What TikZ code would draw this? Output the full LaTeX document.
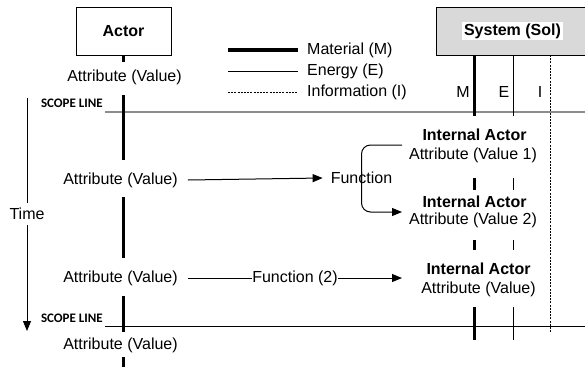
\documentclass[tikz,border=0pt]{standalone}
\usepackage{fontspec}
\setmainfont{Liberation Sans}
\newfontfamily\scopefont{Carlito}
\usetikzlibrary{arrows.meta}
\begin{document}
\begin{tikzpicture}[x=1pt,y=-1pt,
  txt/.style={font=\fontsize{16}{18}\selectfont, inner sep=0pt},
  boldtxt/.style={font=\fontsize{16}{18}\selectfont\bfseries, inner sep=0pt},
  scopelbl/.style={font=\scopefont\fontsize{13}{15}\selectfont\bfseries, inner sep=0pt},
  matline/.style={line width=3pt},
  enline/.style={line width=0.8pt},
  infline/.style={line width=0.7pt, dash pattern=on 2pt off 1.2pt},
  arr/.style={line width=1pt, -{Triangle[length=10pt,width=8pt]}},
  conn/.style={line width=1pt}
]
\useasboundingbox (0,0) rectangle (585,367);

% Actor box
\node[draw, line width=0.8pt, minimum width=95pt, minimum height=48pt, boldtxt] (actor) at (123.5,31) {Actor};

% System box
\fill[black!15] (436,7) rectangle (590,55);
\draw[line width=0.8pt] (590,7) -- (436,7) -- (436,55) -- (590,55);
\node[boldtxt, fill=white, inner xsep=2.5pt, inner ysep=2pt] (sys) at (512.5,31) {System (Sol)};

% Legend
\coordinate (lg1a) at (228,50); \coordinate (lg1b) at (298,50);
\coordinate (lg2a) at (228,71); \coordinate (lg2b) at (298,71);
\coordinate (lg3a) at (228,92); \coordinate (lg3b) at (298,92);
\draw[line width=3.5pt] (lg1a) -- (lg1b);
\draw[enline] (lg2a) -- (lg2b);
\draw[infline] (lg3a) -- (lg3b);
\node[txt, anchor=west] (lmat) at (307,50) {Material (M)};
\node[txt, anchor=west] (len) at (307,71) {Energy (E)};
\node[txt, anchor=west] (linf) at (307,92) {Information (I)};

% Scope lines
\node[scopelbl, anchor=east] (sc1) at (103,103) {SCOPE LINE};
\node[scopelbl, anchor=east] (sc2) at (103,318) {SCOPE LINE};
\coordinate (s1a) at (105,112); \coordinate (s1b) at (586,112);
\coordinate (s2a) at (105,326); \coordinate (s2b) at (586,326);
\draw[line width=1.1pt, black!45] (s1a) -- (s1b);
\draw[line width=0.8pt] (s2a) -- (s2b);

% Time arrow
\coordinate (t1) at (27,98); \coordinate (t2) at (27,331);
\draw[arr] (t1) -- (t2);
\node[txt, fill=white, inner xsep=1pt, inner ysep=5pt] (time) at (27,214) {Time};

% Actor lifeline and attributes
\node[txt] (a1) at (124.5,77) {Attribute (Value)};
\node[txt] (a2) at (120.5,180) {Attribute (Value)};
\node[txt] (a3) at (120.5,278) {Attribute (Value)};
\node[txt] (a4) at (120.5,345) {Attribute (Value)};
\coordinate (al1) at (123,62);
\coordinate (al2) at (123,95);  \coordinate (al3) at (123,160);
\coordinate (al4) at (123,197); \coordinate (al5) at (123,258);
\coordinate (al6) at (123,296); \coordinate (al7) at (123,332);
\coordinate (al8) at (123,357); \coordinate (al9) at (123,367);
\draw[matline] (actor.south -| al1) -- (al1);
\draw[matline] (al2) -- (al3);
\draw[matline] (al4) -- (al5);
\draw[matline] (al6) -- (al7);
\draw[matline] (al8) -- (al9);

% System lifelines
\node[txt] (lm) at (463,92) {M};
\node[txt] (le) at (504,92) {E};
\node[txt] (li) at (540,92) {I};
\coordinate (m0) at (474,55); \coordinate (m1) at (474,116);
\coordinate (e0) at (513,55); \coordinate (e1) at (513,116);
\coordinate (i0) at (550,55); \coordinate (i1) at (550,332);
\draw[matline] (m0) -- (m1);
\draw[enline] (e0) -- (e1);
\draw[infline] (i0) -- (i1);
\coordinate (m2) at (474,178); \coordinate (m3) at (474,190);
\coordinate (e2) at (513,178); \coordinate (e3) at (513,190);
\coordinate (m4) at (474,240); \coordinate (m5) at (474,250);
\coordinate (e4) at (513,240); \coordinate (e5) at (513,250);
\coordinate (m6) at (474,307); \coordinate (m7) at (474,340);
\coordinate (e6) at (513,307); \coordinate (e7) at (513,340);
\draw[matline] (m2) -- (m3);
\draw[enline] (e2) -- (e3);
\draw[matline] (m4) -- (m5);
\draw[enline] (e4) -- (e5);
\draw[matline] (m6) -- (m7);
\draw[enline] (e6) -- (e7);

% Internal actors
\node[boldtxt] (ia1) at (474.5,135) {Internal Actor};
\node[txt] (iv1) at (473,155) {Attribute (Value 1)};
\node[boldtxt] (ia2) at (474.5,202) {Internal Actor};
\node[txt] (iv2) at (473,220) {Attribute (Value 2)};
\node[boldtxt] (ia3) at (478.5,269) {Internal Actor};
\node[txt] (iv3) at (478.5,289) {Attribute (Value)};

% Functions
\node[txt] (func) at (361.5,178) {Function};
\node[txt] (func2) at (295,278) {Function (2)};
\coordinate (b1) at (402,145);
\coordinate (b2) at (402,212);
\coordinate (f2end) at (402,278);

\draw[arr] ([xshift=10pt]a2.east) -- ([xshift=-8pt]func.west);
\draw[conn, rounded corners=9pt] ([yshift=-11pt]func.north) |- (b1);
\draw[arr, rounded corners=9pt] ([yshift=12pt]func.south) |- (b2);
\draw[conn] ([xshift=10pt]a3.east) -- (func2.west);
\draw[arr] (func2.east) -- (f2end);
\end{tikzpicture}
\end{document}
